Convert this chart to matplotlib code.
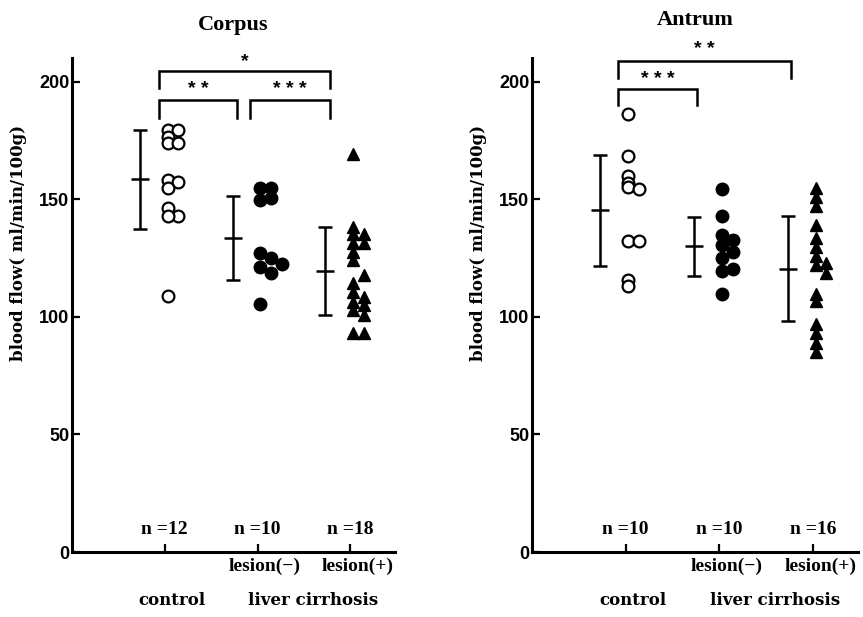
import matplotlib
matplotlib.use("Agg")
import matplotlib.pyplot as plt

# --- data (ml/min/100g) ---
groups = ["control", "lesion(−)", "lesion(+)"]

corpus_control = [179.6, 179.6, 176.6, 174, 174, 158.3, 157.4, 154.9, 146.4, 143, 143, 109]
corpus_control_col = [0, 1, 0, 0, 1, 0, 1, 0, 0, 1, 0, 0]
corpus_les_neg = [154.9, 154.9, 149.8, 150.6, 127.2, 125.1, 122.6, 121.3, 118.7, 105.5]
corpus_les_neg_col = [0, 1, 0, 1, 0, 1, 2, 0, 1, 0]
corpus_les_pos = [169, 138.3, 135, 135, 131.5, 131.5, 127.7, 124.3,
                  117.9, 114.5, 110.6, 108.5, 106.4, 105.1, 103, 100.9, 93.2, 93.2]
corpus_les_pos_col = [0, 0, 0, 1, 0, 1, 0, 0, 1, 0, 0, 1, 0, 1, 0, 1, 0, 1]
corpus_mean = [158.5, 133.5, 119.5]
corpus_sd = [21.1, 18.0, 18.7]
corpus_n = [12, 10, 18]

antrum_control = [186, 168.2, 160, 157, 155.2, 154.3, 132, 132, 115.7, 112.9]
antrum_control_col = [0, 0, 0, 0, 0, 1, 0, 1, 0, 0]
antrum_les_neg = [154.5, 143, 134.9, 132.5, 130.3, 127.5, 125, 120.3, 119.3, 109.8]
antrum_les_neg_col = [0, 0, 0, 1, 0, 1, 0, 1, 0, 0]
antrum_les_pos = [154.8, 151, 147.2, 139.1, 133.6, 129.8, 126, 122.1, 123, 118.7,
                  109.5, 106.5, 97, 93, 89, 85]
antrum_les_pos_col = [0, 0, 0, 0, 0, 0, 0, 0, 1, 1, 0, 0, 0, 0, 0, 0]
antrum_mean = [145.2, 129.9, 120.4]
antrum_sd = [23.5, 12.5, 22.3]
antrum_n = [10, 10, 16]

SERIF = ["Liberation Serif", "DejaVu Serif"]
WIDE = ["DejaVu Serif"]
SANS = ["Liberation Sans", "DejaVu Sans"]

fig = plt.figure(figsize=(8.63, 6.17), dpi=100)


def panel(rect, title, data, means, sds, ns, brackets, title_y):
    ax = fig.add_axes(rect)
    styles = [dict(marker="o", mfc="white", mec="black", mew=1.6, ms=8.5),
              dict(marker="o", mfc="black", mec="black", ms=9),
              dict(marker="^", mfc="black", mec="black", ms=8)]
    for i, (vals, cols) in enumerate(data):
        xs = [i + 1.03 + 0.115 * c for c in cols]
        ax.plot(xs, vals, ls="none", **styles[i])
        ax.errorbar(i + 1 - 0.27, means[i], yerr=sds[i], fmt="_", color="black",
                    ms=13, mew=1.8, elinewidth=1.8, capsize=4.7, capthick=1.8)
        ax.text(i + 1, 9.4, "n =%d" % ns[i], ha="center", va="center",
                fontsize=14, fontweight="bold", family=SERIF)
    # significance brackets
    for x0, x1, yb, yt, label, ys in brackets:
        ax.plot([x0, x0, x1, x1], [yb, yt, yt, yb], color="black", lw=1.8,
                clip_on=False, solid_joinstyle="miter")
        ax.text((x0 + x1) / 2, ys, label, ha="center", va="center",
                fontsize=14, fontweight="bold", family=SANS)
    ax.set_xlim(0, 3.48)
    ax.set_ylim(0, 210)
    ax.set_xticks([1, 2, 3])
    ax.set_xticklabels([])
    ax.set_yticks([0, 50, 100, 150, 200])
    ax.set_yticklabels(["0", "50", "100", "150", "200"], fontsize=13,
                       fontweight="bold", family=SANS)
    ax.tick_params(direction="in", length=6, width=1.6, pad=2)
    for s in ["top", "right"]:
        ax.spines[s].set_visible(False)
    for s in ["left", "bottom"]:
        ax.spines[s].set_linewidth(2.2)
    ax.set_ylabel("blood flow( ml/min/100g)", fontsize=12, fontweight="bold",
                  family=WIDE)
    ax.yaxis.set_label_coords(-0.139, 0.626)
    ax.set_title(title, fontsize=16, fontweight="bold", family=SERIF, y=title_y)
    # category labels below the axis
    for i in [1, 2]:
        ax.text(i + 1 + 0.08, -2.5, groups[i], ha="center", va="top", fontsize=14,
                fontweight="bold", family=SERIF, clip_on=False)
    ax.text(1 + 0.08, -17, groups[0], ha="center", va="top", fontsize=12,
            fontweight="bold", family=WIDE, clip_on=False)
    ax.text(2.6, -17, "liver cirrhosis", ha="center", va="top", fontsize=12,
            fontweight="bold", family=WIDE, clip_on=False)
    return ax


corpus_data = [(corpus_control, corpus_control_col), (corpus_les_neg, corpus_les_neg_col),
               (corpus_les_pos, corpus_les_pos_col)]
antrum_data = [(antrum_control, antrum_control_col), (antrum_les_neg, antrum_les_neg_col),
               (antrum_les_pos, antrum_les_pos_col)]

corpus_brackets = [(0.94, 2.78, 197.4, 204.3, "*", 208.5),
                   (0.94, 1.78, 184.7, 192.0, "* *", 196.6),
                   (1.92, 2.78, 184.7, 192.0, "* * *", 196.6)]
antrum_brackets = [(0.92, 2.77, 201.3, 208.6, "* *", 213.6),
                   (0.92, 1.76, 190.2, 196.9, "* * *", 200.9)]

panel([0.0834, 0.1053, 0.3743, 0.8007], "Corpus", corpus_data, corpus_mean,
      corpus_sd, corpus_n, corpus_brackets, 1.04)
panel([0.6165, 0.1053, 0.3775, 0.8007], "Antrum", antrum_data, antrum_mean,
      antrum_sd, antrum_n, antrum_brackets, 1.05)

fig.savefig("out.png", dpi=100)
